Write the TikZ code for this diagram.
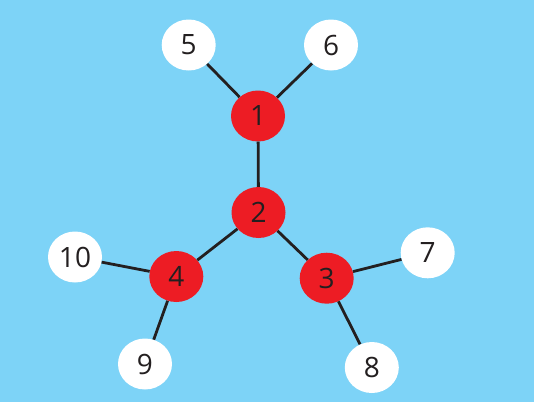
\documentclass[tikz,border=0pt]{standalone}
\usetikzlibrary{shapes.geometric}
\usepackage{fontspec}
\setmainfont{Open Sans}
\definecolor{bg}{HTML}{7DD3F7}
\definecolor{nred}{HTML}{ED1C24}
\definecolor{ink}{HTML}{231F20}
\begin{document}
\begin{tikzpicture}[x=1pt,y=-1pt,
  base/.style={ellipse, minimum width=54pt, minimum height=51pt, inner sep=0pt, text=ink, font=\fontsize{28}{28}\selectfont},
  rednode/.style={base, fill=nred},
  whitenode/.style={base, fill=white},
  edge/.style={draw=ink, line width=2.8pt}]
\fill[bg] (0,0) rectangle (534,402);
\useasboundingbox (0,0) rectangle (534,402);
\node[rednode] (n1) at (258,116) {1};
\node[rednode] (n2) at (258.5,212.5) {2};
\node[rednode] (n3) at (326.7,278.2) {3};
\node[rednode] (n4) at (176.3,276.5) {4};
\node[whitenode] (n5) at (188.7,45) {5};
\node[whitenode] (n6) at (331,45) {6};
\node[whitenode] (n7) at (427.7,252.8) {7};
\node[whitenode] (n8) at (371.8,367.5) {8};
\node[whitenode] (n9) at (145,364) {9};
\node[whitenode] (n10) at (75,257) {10};
\draw[edge] (n1) -- (n2);
\draw[edge] (n1) -- (n5);
\draw[edge] (n1) -- (n6);
\draw[edge] (n2) -- (n3);
\draw[edge] (n2) -- (n4);
\draw[edge] (n3) -- (n7);
\draw[edge] (n3) -- (n8);
\draw[edge] (n4) -- (n9);
\draw[edge] (n4) -- (n10);
\end{tikzpicture}
\end{document}
